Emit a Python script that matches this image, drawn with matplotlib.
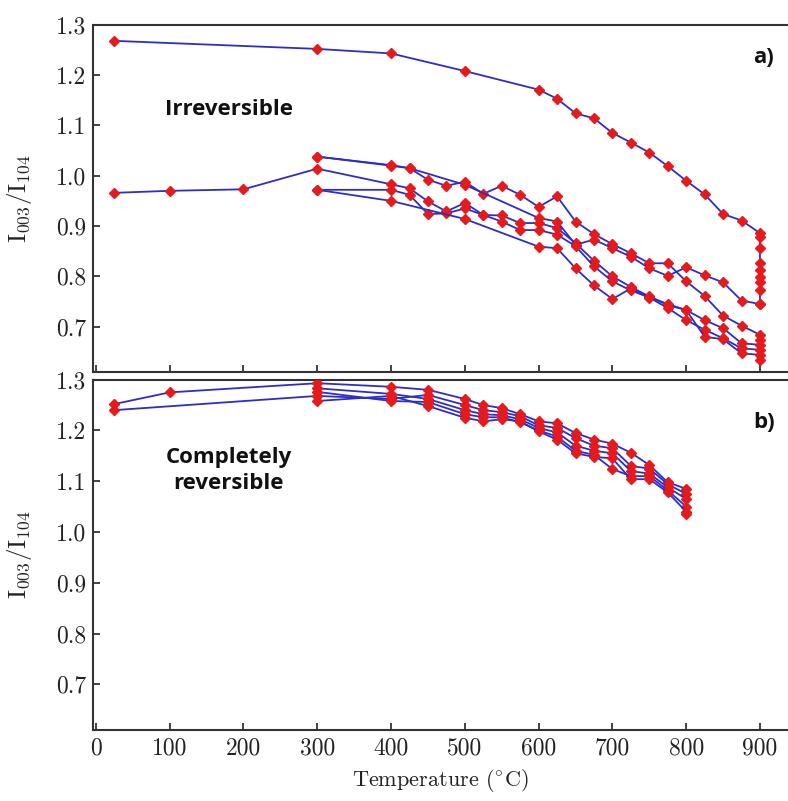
import numpy as np
import matplotlib
matplotlib.use("Agg")
import matplotlib.pyplot as plt

plt.rcParams['font.family'] = 'serif'
plt.rcParams['font.serif'] = ['cmr10']
plt.rcParams['mathtext.fontset'] = 'cm'
plt.rcParams['axes.formatter.use_mathtext'] = True

# ---- a) irreversible ----
irr_A_T = [25, 300, 400, 500, 600, 625, 650, 675, 700, 725, 750, 775, 800, 825, 850, 875,
           900, 900, 900, 900, 900, 900, 900, 900, 900]
irr_A_v = [1.268, 1.252, 1.243, 1.208, 1.171, 1.153, 1.124, 1.114, 1.085, 1.066, 1.046, 1.019,
           0.990, 0.963, 0.924, 0.911, 0.886, 0.879, 0.857, 0.827, 0.813, 0.799, 0.788, 0.773, 0.745]

irr_1_T = [25, 100, 200, 300, 400, 425, 450, 475, 500, 525, 550, 575, 600, 625, 650, 675,
           700, 725, 750, 775, 800, 825, 850, 875, 900]
irr_1_v = [0.966, 0.970, 0.973, 1.014, 0.983, 0.975, 0.949, 0.929, 0.946, 0.922, 0.921, 0.906,
           0.906, 0.896, 0.866, 0.831, 0.800, 0.779, 0.760, 0.743, 0.733, 0.713, 0.697, 0.667, 0.664]

irr_2_T = [300, 400, 425, 450, 475, 500, 525, 550, 575, 600, 625, 650, 675, 700, 725, 750,
           775, 800, 825, 850, 875, 900, 900]
irr_2_v = [1.038, 1.020, 1.015, 0.992, 0.980, 0.988, 0.964, 0.980, 0.962, 0.938, 0.959, 0.909,
           0.884, 0.864, 0.846, 0.826, 0.826, 0.790, 0.761, 0.722, 0.702, 0.684, 0.674]

irr_3_T = [300, 400, 425, 500, 600, 625, 650, 675, 700, 725, 750, 775, 800, 825, 850, 875, 900]
irr_3_v = [1.038, 1.021, 1.015, 0.982, 0.916, 0.909, 0.863, 0.873, 0.856, 0.839, 0.816, 0.801,
           0.818, 0.802, 0.788, 0.752, 0.745]

irr_4_T = [300, 400, 425, 450, 475, 500, 525, 550, 575, 600, 625, 650, 675, 700, 725, 750,
           775, 800, 825, 850, 875, 900]
irr_4_v = [0.972, 0.972, 0.962, 0.924, 0.925, 0.935, 0.922, 0.909, 0.892, 0.892, 0.883, 0.860,
           0.820, 0.790, 0.772, 0.758, 0.737, 0.713, 0.694, 0.677, 0.657, 0.654]

irr_5_T = [300, 400, 500, 600, 625, 650, 675, 700, 725, 750, 775, 800, 825, 850, 875, 900, 900]
irr_5_v = [0.972, 0.950, 0.914, 0.859, 0.856, 0.816, 0.782, 0.755, 0.776, 0.759, 0.745, 0.733,
           0.680, 0.675, 0.647, 0.644, 0.634]

irr_series = [(irr_A_T, irr_A_v), (irr_1_T, irr_1_v), (irr_2_T, irr_2_v),
              (irr_3_T, irr_3_v), (irr_4_T, irr_4_v), (irr_5_T, irr_5_v)]

# ---- b) completely reversible ----
rev_T = [300, 400, 450, 500, 525, 550, 575, 600, 625, 650, 675, 700, 725, 750, 775, 800]
rev_1 = [1.293, 1.286, 1.280, 1.262, 1.250, 1.244, 1.232, 1.218, 1.214, 1.195, 1.182, 1.174,
         1.156, 1.132, 1.098, 1.085]
rev_2 = [1.268, 1.262, 1.270, 1.250, 1.240, 1.236, 1.228, 1.210, 1.205, 1.185, 1.170, 1.165,
         1.130, 1.125, 1.094, 1.075]
rev_3 = [1.283, 1.272, 1.262, 1.240, 1.232, 1.230, 1.222, 1.205, 1.196, 1.170, 1.160, 1.155,
         1.120, 1.115, 1.088, 1.065]
rev_4 = [1.276, 1.258, 1.256, 1.232, 1.226, 1.226, 1.216, 1.200, 1.188, 1.160, 1.152, 1.124,
         1.110, 1.110, 1.082, 1.050]
rev_5 = [1.258, 1.268, 1.248, 1.225, 1.218, 1.222, 1.218, 1.198, 1.182, 1.155, 1.148, 1.145,
         1.104, 1.104, 1.078, 1.040]
rev_start_1 = ([25, 100], [1.252, 1.275])   # leads into rev_1
rev_start_2 = ([25], [1.240])               # leads into rev_2
rev_series = [(rev_start_1[0] + rev_T, rev_start_1[1] + rev_1),
              (rev_start_2[0] + rev_T, rev_start_2[1] + rev_2),
              (rev_T, rev_3), (rev_T, rev_4), (rev_T + [800], rev_5 + [1.035])]

yticks = [0.7, 0.8, 0.9, 1.0, 1.1, 1.2, 1.3]
xticks = [0, 100, 200, 300, 400, 500, 600, 700, 800, 900]

blue = '#2d2dc8'
red = '#e41a1c'

fig = plt.figure(figsize=(7.88, 8.01), dpi=100)
ax1 = fig.add_axes([0.118, 0.5356, 0.882, 0.4335])
ax2 = fig.add_axes([0.118, 0.0886, 0.882, 0.4374])

for ax, series in ((ax1, irr_series), (ax2, rev_series)):
    for T, v in series:
        ax.plot(T, v, color=blue, lw=1.3, marker='D', ms=4.6,
                mfc=red, mec=red, zorder=3)
    ax.set_xlim(-4, 938)
    ax.set_ylim(0.61, 1.3)
    ax.set_yticks(yticks)
    ax.set_yticklabels(['%.1f' % t for t in yticks])
    ax.set_xticks(xticks)
    ax.tick_params(direction='in', length=5, width=1.2, labelsize=17, colors='#222222', pad=5)
    ax.spines['right'].set_visible(False)
    for s in ('left', 'bottom', 'top'):
        ax.spines[s].set_linewidth(1.5)
        ax.spines[s].set_color('#333333')
    ax.set_ylabel(r'$\mathrm{I_{003}/I_{104}}$', fontsize=18, color='#222222')

ax1.tick_params(labelbottom=False)
ax2.set_xticklabels([str(t) for t in xticks])
ax2.set_xlabel(r'Temperature ($^{\circ}$C)', fontsize=16, color='#222222', labelpad=6)
ax1.yaxis.set_label_coords(-0.085, 0.5)
ax2.yaxis.set_label_coords(-0.085, 0.5)

bold = dict(family='Open Sans', weight='bold', fontsize=16, color='#111111')
ax1.text(180, 1.131, 'Irreversible', ha='center', va='center', **bold)
ax1.text(905, 1.234, 'a)', ha='center', va='center', **bold)
ax2.text(180, 1.121, 'Completely\nreversible', ha='center', va='center', linespacing=1.3, **bold)
ax2.text(905, 1.215, 'b)', ha='center', va='center', **bold)

fig.savefig('out.png', dpi=100)
